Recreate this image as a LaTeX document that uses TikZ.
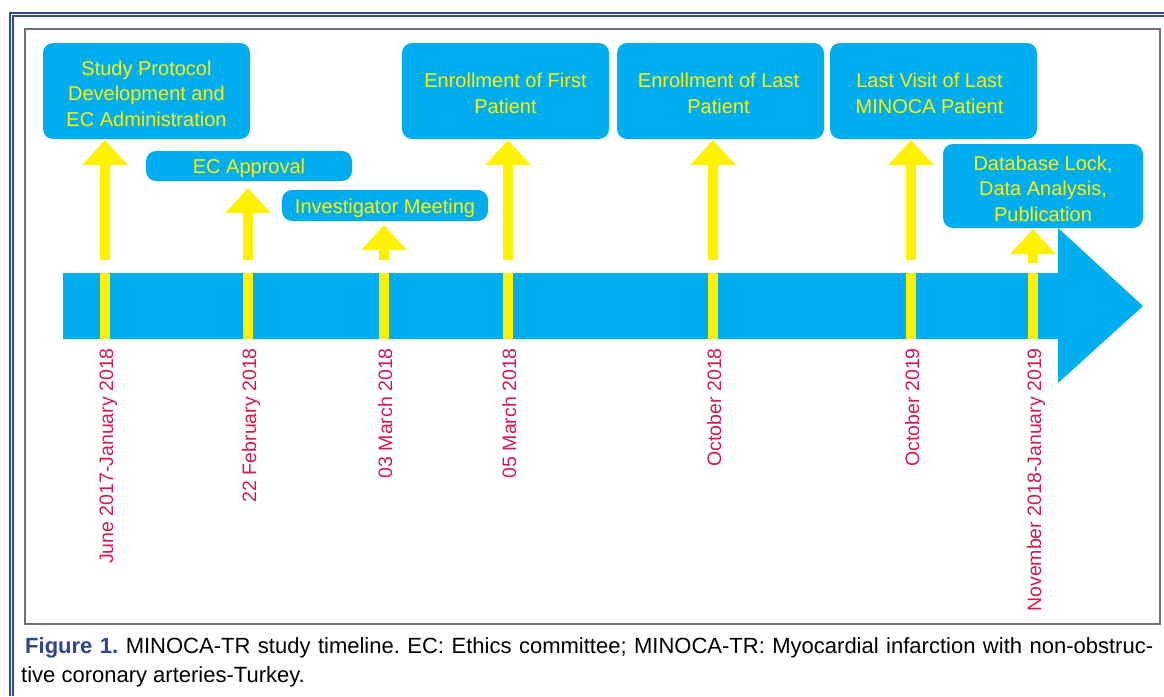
\documentclass[tikz,border=0pt]{standalone}
\usepackage{fontspec}
\setmainfont{Liberation Sans}
\usetikzlibrary{calc}
\definecolor{boxblue}{HTML}{00AEEF}
\definecolor{ylw}{HTML}{FFF200}
\definecolor{datered}{HTML}{D7194B}
\definecolor{frameblue}{HTML}{2E4A9B}
\definecolor{capblue}{HTML}{2E4593}
\definecolor{framegray}{HTML}{707070}
\newcommand{\yarrow}[3]{%
  \coordinate (tip) at ($(#1 |- #2.south)+(0,#3)$);
  \fill[ylw] ($(#1)+(-5,0)$) -- ($(tip)+(-5,25)$) -- ($(tip)+(-23,25)$) -- (tip)
    -- ($(tip)+(23,25)$) -- ($(tip)+(5,25)$) -- ($(#1)+(5,0)$) -- cycle;}
\frenchspacing
\begin{document}
\begin{tikzpicture}[x=1pt,y=-1pt,
  box/.style={fill=boxblue, rounded corners=10pt, inner sep=0pt},
  boxtext/.style={text=ylw, align=center, inner sep=0pt, yshift=-2.5pt,
    font=\fontsize{20}{25.5}\selectfont},
  datelabel/.style={rotate=90, anchor=base east, text=datered, inner sep=0pt,
    font=\fontsize{19.5}{22}\selectfont},
  captext/.style={anchor=base west, inner sep=0pt, font=\fontsize{22}{28}\selectfont},
  frameline/.style={frameblue, line width=1.6pt}
]
\useasboundingbox (0,0) rectangle (1164,696);
\fill[white] (0,0) rectangle (1164,696);
% outer frame
\draw[frameline] (10,696) -- (10,13) -- (1164,13);
\draw[frameline] (13,696) -- (13,16) -- (1164,16);
% inner frame
\draw[framegray, line width=1.2pt] (25,29) rectangle (1160,624);
% timeline bar
\fill[boxblue] (63,273) -- (1058,273) -- (1058,228) -- (1143,306) -- (1058,383)
  -- (1058,339) -- (63,339) -- cycle;
\foreach \x in {105,248,384,508,713,911,1033}{
  \fill[ylw] (\x-5,273) rectangle (\x+5,339);
}
% start points
\coordinate (t1) at (105,260);
\coordinate (t2) at (248,260);
\coordinate (t3) at (384,260);
\coordinate (t4) at (508,260);
\coordinate (t5) at (713,260);
\coordinate (t6) at (911,260);
\coordinate (t7) at (1033,263);
% boxes
\node[box, minimum width=207pt, minimum height=96pt] (b1) at (146.5,91) {};
\node[box, minimum width=206pt, minimum height=30pt] (b2) at (249,166) {};
\node[box, minimum width=206pt, minimum height=31pt] (b3) at (385,205.5) {};
\node[box, minimum width=207pt, minimum height=96pt] (b4) at (505.5,91) {};
\node[box, minimum width=207pt, minimum height=96pt] (b5) at (720.5,91) {};
\node[box, minimum width=207pt, minimum height=96pt] (b6) at (933.5,91) {};
\node[box, minimum width=200pt, minimum height=84pt] (b7) at (1043,186) {};
% box texts
\node[boxtext] (b1t) at (b1.center) {Study Protocol\\Development and\\EC Administration};
\node[boxtext] (b2t) at (b2.center) {EC Approval};
\node[boxtext] (b3t) at (b3.center) {Investigator Meeting};
\node[boxtext] (b4t) at (b4.center) {Enrollment of First\\Patient};
\node[boxtext] (b5t) at ([xshift=-2pt]b5.center) {Enrollment of Last\\Patient};
\node[boxtext] (b6t) at ([xshift=-4pt]b6.center) {Last Visit of Last\\MINOCA Patient};
\node[boxtext] (b7t) at (b7.center) {Database Lock,\\Data Analysis,\\Publication};
% arrows
\yarrow{t1}{b1}{1}
\yarrow{t2}{b2}{7}
\yarrow{t3}{b3}{4}
\yarrow{t4}{b4}{1}
\yarrow{t5}{b5}{1}
\yarrow{t6}{b6}{1}
\yarrow{t7}{b7}{1}
% dates
\node[datelabel] (d1) at (113,348) {June 2017-January 2018};
\node[datelabel] (d2) at (256,348) {22 February 2018};
\node[datelabel] (d3) at (392,348) {03 March 2018};
\node[datelabel] (d4) at (516,348) {05 March 2018};
\node[datelabel] (d5) at (721,348) {October 2018};
\node[datelabel] (d6) at (919,348) {October 2019};
\node[datelabel] (d7) at (1041,348) {November 2018-January 2019};
% caption
\node[captext] (cap1) at (25,653) {\makebox[1128pt][s]{\textcolor{capblue}{\bfseries Figure 1.} MINOCA-TR study timeline. EC: Ethics committee; MINOCA-TR: Myocardial infarction with non-obstruc-}};
\node[captext] (cap2) at (21,682) {tive coronary arteries-Turkey.};
\end{tikzpicture}
\end{document}
